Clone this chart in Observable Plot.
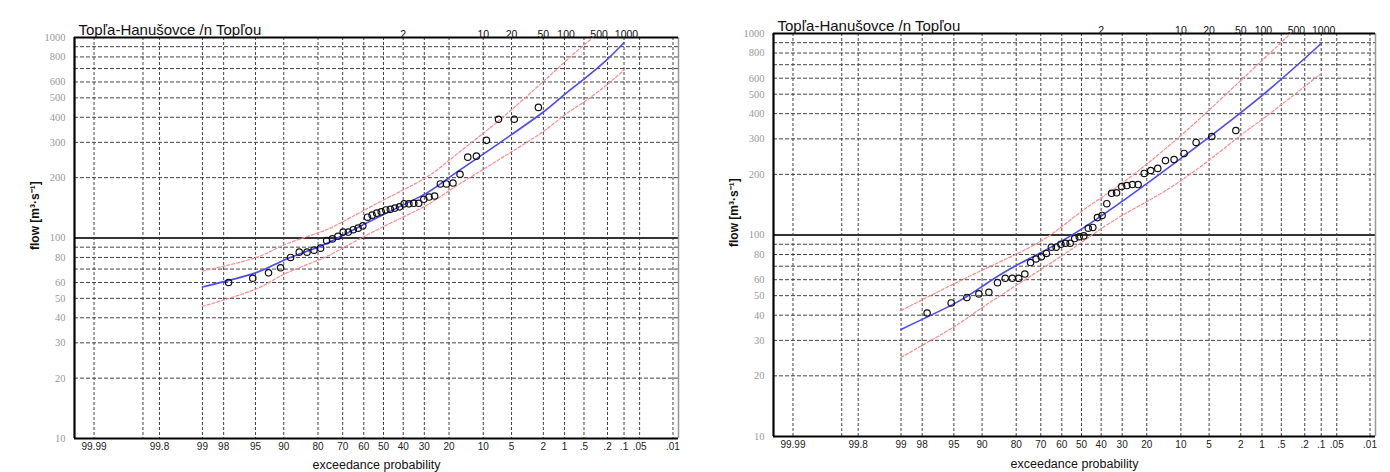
<!DOCTYPE html>
<html><head><meta charset="utf-8">
<script src="https://cdn.jsdelivr.net/npm/d3@7"></script>
<script src="https://cdn.jsdelivr.net/npm/@observablehq/plot@0.6"></script>
<style>
body{margin:0;background:#fff;}
#wrap{position:relative;width:1390px;height:472px;overflow:hidden;background:#fff}
#left{position:absolute;left:0;top:0}
#right{position:absolute;left:695px;top:0}
</style></head><body><div id="wrap"><div id="left"></div><div id="right"></div></div>
<script>
const title = "Topľa-Hanušovce /n Topľou";
const xLabel = "exceedance probability";
const yLabel = "flow [m³·s⁻¹]";
const probTicks = [99.99, 99.9, 99.8, 99, 98, 95, 90, 80, 70, 60, 50, 40, 30, 20, 10, 5, 2, 1, 0.5, 0.2, 0.1, 0.05, 0.01];
const probLabels = ["99.99","","99.8","99","98","95","90","80","70","60","50","40","30","20","10","5","2","1",".5",".2",".1",".05",".01"];
const returnPos = [40, 10, 5, 2, 0.95, 0.28, 0.09];
const returnLabels = ["2","10","20","50","100","500","1000"];
const flowTicks = [10,20,30,40,50,60,80,100,200,300,400,500,600,800,1000];
const flowGrid = [20,30,40,50,60,70,80,90,200,300,400,500,600,700,800,900];

// plotting positions (exceedance %, rank 1..42)
const obsProb = [2.33,4.65,6.98,9.30,11.63,13.95,16.28,18.60,20.93,23.26,25.58,27.91,30.23,32.56,34.88,37.21,39.53,41.86,44.19,46.51,48.84,51.16,53.49,55.81,58.14,60.47,62.79,65.12,67.44,69.77,72.09,74.42,76.74,79.07,81.40,83.72,86.05,88.37,90.70,93.02,95.35,97.67];
const leftFlow = [448,391,391,307,256,253,208,188,186,186,162,160,156,149,149,148,148,143,141,139,138,135,133,130,127,115,112,110,107,107,102,99,97,89,87,85,85,80,71,67,63,60];
const rightFlow = [330,308,288,254,237,234,214,209,202,178,178,176,174,162,161,143,125,122,109,108,99,98,96,91,91,90,87,87,81,78,76,73,64,61,61,61,58,52,51,49,46,41];

// fitted curves and confidence bounds
const leftFitProb = [99,95,90,80,70,50,30,20,10,5,2,1,0.5,0.2,0.1];
const leftFit = [57,67,77.5,90,103,131,165,200,262,328,425,520,620,780,944];
const leftUpProb = [99,95,90,80,70,50,30,20,10,5,2,1,0.5,0.35];
const leftUp = [68.5,79.7,92.2,106,120.5,154.6,198,244,333,436,604,754,918,1000];
const leftLoProb = [99,95,90,80,70,50,30,20,10,5,2,1,0.5,0.2,0.1];
const leftLo = [45.6,55.6,65.9,77.4,89.1,114,143.6,172,220,269,340,411,477,585,689];

const rightFitProb = [99,95,90,80,50,10,1,0.1];
const rightFit = [34,45.5,55.5,70.6,107,240,492,892];
const rightUpProb = [99,90,70,50,30,10,2,0.35];
const rightUp = [42.2,66.9,93.2,131,181,312,585,1000];
const rightLoProb = [99,95,90,70,50,30,10,2,1,0.1];
const rightLo = [24.7,35,43.6,67.4,92,125,186,313,374,633];

function probit(p){
  const a=[-3.969683028665376e+01,2.209460984245205e+02,-2.759285104469687e+02,1.383577518672690e+02,-3.066479806614716e+01,2.506628277459239e+00];
  const b=[-5.447609879822406e+01,1.615858368580409e+02,-1.556989798598866e+02,6.680131188771972e+01,-1.328068155288572e+01];
  const c=[-7.784894002430293e-03,-3.223964580411365e-01,-2.400758277161838e+00,-2.549732539343734e+00,4.374664141464968e+00,2.938163982698783e+00];
  const d=[7.784695709041462e-03,3.224671290700398e-01,2.445134137142996e+00,3.754408661907416e+00];
  const pl=0.02425, ph=1-pl; let q,r;
  if(p<pl){q=Math.sqrt(-2*Math.log(p));return (((((c[0]*q+c[1])*q+c[2])*q+c[3])*q+c[4])*q+c[5])/((((d[0]*q+d[1])*q+d[2])*q+d[3])*q+1);}
  if(p<=ph){q=p-0.5;r=q*q;return (((((a[0]*r+a[1])*r+a[2])*r+a[3])*r+a[4])*r+a[5])*q/(((((b[0]*r+b[1])*r+b[2])*r+b[3])*r+b[4])*r+1);}
  q=Math.sqrt(-2*Math.log(1-p));return -(((((c[0]*q+c[1])*q+c[2])*q+c[3])*q+c[4])*q+c[5])/((((d[0]*q+d[1])*q+d[2])*q+d[3])*q+1);
}
const zx = p => probit(1 - p/100);
const XD = [-3.97, 3.79];
const pairs = (ps, qs) => ps.map((p,i)=>({z: zx(p), q: qs[i]}));

function panel(c){
  const pts = pairs(obsProb, c.flow);
  return Plot.plot({
    width: c.width, height: 472,
    marginLeft: c.ml, marginRight: c.mr, marginTop: c.mt, marginBottom: c.mb,
    x: {type:"linear", domain: XD, axis: null},
    y: {type:"log", domain: [10,1000], axis: null},
    style: {background:"transparent", fontFamily:"Liberation Sans, Arial, sans-serif", overflow:"visible"},
    marks: [
      Plot.ruleX(probTicks, {x: d=>zx(d), stroke:"#444", strokeWidth:1, strokeDasharray:"3,2"}),
      Plot.ruleY(flowGrid, {y: d=>d, stroke:"#444", strokeWidth:1, strokeDasharray:"4,2"}),
      Plot.ruleY([100], {y: d=>d, stroke:"#333", strokeWidth:2}),
      Plot.ruleX([XD[1]], {x: d=>d, stroke:"#999", strokeWidth:1.5}),
      Plot.ruleX([XD[0]], {x: d=>d, stroke:"#000", strokeWidth:2.2}),
      Plot.ruleY([10, 1000], {y: d=>d, stroke:"#000", strokeWidth:2.2}),
      Plot.line(pairs(c.upP, c.up), {x:"z", y:"q", stroke:"#ff8a8a", strokeWidth:1.2, strokeDasharray:"3,2", curve:"natural", clip:true}),
      Plot.line(pairs(c.loP, c.lo), {x:"z", y:"q", stroke:"#ff8a8a", strokeWidth:1.2, strokeDasharray:"3,2", curve:"natural", clip:true}),
      Plot.line(pairs(c.fitP, c.fit), {x:"z", y:"q", stroke:"#4a4aff", strokeWidth:1.6, curve:"natural"}),
      Plot.dot(pts, {x:"z", y:"q", r:3.2, stroke:"#111", strokeWidth:1.2, fill:"none"}),
      Plot.text(flowTicks, {y: d=>d, text: d=>String(d), frameAnchor:"left", dx:-9, textAnchor:"end", fill:"#999", fontFamily:"Liberation Serif, serif", fontSize:10.5}),
      Plot.text(probTicks, {x: d=>zx(d), text: (d,i)=>probLabels[i], frameAnchor:"bottom", dy:11, fill:"#222", fontSize:10}),
      Plot.text(returnPos, {x: d=>zx(d), text: (d,i)=>returnLabels[i], frameAnchor:"top", dy:-7, fill:"#111", fontSize:10.5}),
      Plot.text([title], {frameAnchor:"top-left", dx:4, dy:-13, textAnchor:"start", fill:"#111", fontSize:15}),
      Plot.text([yLabel], {frameAnchor:"left", dx:-39, dy:12, rotate:-90, fill:"#111", fontSize:12, fontWeight:"600"}),
      Plot.text([xLabel], {frameAnchor:"bottom", dy:c.xdy, fill:"#111", fontSize:12.5})
    ]
  });
}

document.getElementById("left").appendChild(panel({
  width:690, ml:74, mr:12, mt:37, mb:34, xdy:30,
  flow:leftFlow, fitP:leftFitProb, fit:leftFit, upP:leftUpProb, up:leftUp, loP:leftLoProb, lo:leftLo
}));
document.getElementById("right").appendChild(panel({
  width:695, ml:78, mr:15, mt:33, mb:36, xdy:31,
  flow:rightFlow, fitP:rightFitProb, fit:rightFit, upP:rightUpProb, up:rightUp, loP:rightLoProb, lo:rightLo
}));
</script></body></html>
